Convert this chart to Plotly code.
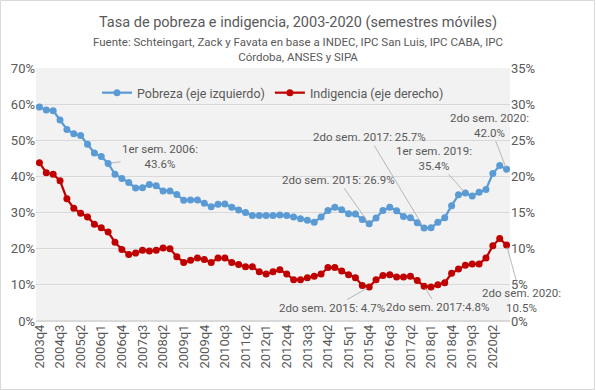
import plotly.graph_objects as go

# Categories: rolling semesters labelled by quarter, 2003q4 .. 2020q4
quarters = [f"{y}q{q}" for y in range(2003, 2021) for q in range(1, 5)][3:]
tick_labels = quarters[::3]

pobreza = [59.2, 58.4, 58.2, 55.6, 53.0, 51.8, 51.3, 48.9, 46.5, 45.5,
           43.6, 40.6, 39.4, 38.3, 36.8, 36.9, 37.8, 37.4, 36.0, 36.0,
           35.0, 33.4, 33.5, 33.5, 32.6, 31.6, 32.3, 32.4, 31.5, 30.7,
           30.0, 29.2, 29.2, 29.2, 29.2, 29.3, 29.2, 28.8, 28.3, 27.9,
           27.3, 28.8, 30.6, 31.5, 30.8, 29.7, 29.6, 28.1, 26.9, 28.5,
           30.6, 31.5, 30.5, 28.9, 28.6, 27.2, 25.7, 25.8, 27.3, 28.6,
           31.9, 34.9, 35.4, 34.6, 35.6, 36.4, 40.8, 43.0, 42.0]

indigencia = [21.9, 20.5, 20.3, 19.4, 16.9, 15.6, 14.9, 14.4, 13.4, 12.9,
              12.3, 10.9, 9.9, 9.2, 9.4, 9.8, 9.7, 9.8, 10.1, 10.0,
              8.9, 8.1, 8.4, 8.7, 8.5, 8.1, 8.7, 8.7, 8.1, 7.8,
              7.5, 7.5, 6.8, 6.5, 6.8, 7.1, 6.5, 5.7, 5.7, 6.0,
              6.2, 6.5, 7.4, 7.4, 6.9, 6.4, 6.0, 4.9, 4.7, 5.7,
              6.3, 6.4, 6.1, 6.1, 6.2, 5.6, 4.8, 4.7, 5.0, 5.3,
              6.6, 7.2, 7.7, 7.9, 7.9, 8.7, 10.4, 11.4, 10.5]

# Data labels: (category, text, dx, dy)
pob_labels = [
    ("2006q2", "1er sem. 2006:<br>43.6%", 52, -7),
    ("2015q4", "2do sem. 2015: 26.9%", -31, -44),
    ("2017q4", "2do sem. 2017: 25.7%", -55, -91),
    ("2019q2", "1er sem. 2019:<br>35.4%", -31, -35),
    ("2020q4", "2do sem. 2020:<br>42.0%", -17, -44),
]
ind_labels = [
    ("2015q4", "2do sem. 2015: 4.7%", -37, 21),
    ("2017q4", "2do sem. 2017:4.8%", 13, 21),
    ("2020q4", "2do sem. 2020:<br>10.5%", 15, 55),
]

FONT = "Roboto"
GRAY = "#595959"

fig = go.Figure()
fig.add_trace(go.Scatter(
    x=quarters, y=pobreza, name="Pobreza (eje izquierdo)",
    mode="lines+markers", line=dict(color="#5B9BD5", width=2.25),
    marker=dict(size=7, color="#5B9BD5"), yaxis="y"))
fig.add_trace(go.Scatter(
    x=quarters, y=indigencia, name="Indigencia (eje derecho)",
    mode="lines+markers", line=dict(color="#C00000", width=2.25),
    marker=dict(size=7, color="#C00000"), yaxis="y2"))

annotations = []
for cat, txt, dx, dy in pob_labels:
    val = pobreza[quarters.index(cat)]
    annotations.append(dict(x=cat, y=val, xref="x", yref="y", text=txt,
                            ax=dx, ay=dy, showarrow=True, arrowhead=0,
                            arrowwidth=0.8, arrowcolor="#A6A6A6", standoff=2,
                            font=dict(family=FONT, size=11.5, color=GRAY)))
for cat, txt, dx, dy in ind_labels:
    val = indigencia[quarters.index(cat)]
    annotations.append(dict(x=cat, y=val, xref="x", yref="y2", text=txt,
                            ax=dx, ay=dy, showarrow=True, arrowhead=0,
                            arrowwidth=0.8, arrowcolor="#A6A6A6", standoff=2,
                            font=dict(family=FONT, size=11.5, color=GRAY)))

# Title and subtitle
annotations.append(dict(xref="paper", yref="paper", x=0.5527, y=1.1818,
                        text="Tasa de pobreza e indigencia, 2003-2020 (semestres móviles)",
                        showarrow=False, xanchor="center", yanchor="middle",
                        font=dict(family=FONT, size=14.5, color=GRAY)))
annotations.append(dict(xref="paper", yref="paper", x=0.5527, y=1.073,
                        text="Fuente: Schteingart, Zack y Favata en base a INDEC, IPC San Luis, IPC CABA, IPC<br>Córdoba, ANSES y SIPA",
                        showarrow=False, xanchor="center", yanchor="middle",
                        font=dict(family=FONT, size=11.5, color=GRAY)))

fig.update_layout(
    width=596, height=390,
    margin=dict(l=36, r=86, t=68, b=69),
    paper_bgcolor="white", plot_bgcolor="#F2F2F2",
    font=dict(family=FONT, color=GRAY, size=13),
    showlegend=True,
    legend=dict(orientation="h", x=0.5, xanchor="center", y=0.901, yanchor="middle",
                bgcolor="rgba(0,0,0,0)", font=dict(size=12.5, color=GRAY),
                itemwidth=30, traceorder="normal"),
    xaxis=dict(type="category", range=[-0.5, len(quarters) - 0.5],
               tickmode="array", tickvals=tick_labels, ticktext=tick_labels,
               tickangle=-90, showgrid=False, showline=False, ticks="",
               tickfont=dict(size=13, color=GRAY)),
    yaxis=dict(range=[0, 70], dtick=10, ticksuffix="%", gridcolor="#D9D9D9",
               gridwidth=1, zeroline=True, zerolinecolor="#D9D9D9", showline=False,
               tickfont=dict(size=13, color=GRAY)),
    yaxis2=dict(range=[0, 35], dtick=5, ticksuffix="%", overlaying="y", side="right",
                showgrid=False, zeroline=False, showline=False,
                tickfont=dict(size=13, color=GRAY)),
    annotations=annotations,
    shapes=[dict(type="rect", xref="paper", yref="paper",
                 x0=-0.0749, x1=1.1783, y0=-0.2708, y1=1.2668,
                 line=dict(color="#D9D9D9", width=1), fillcolor="rgba(0,0,0,0)",
                 layer="below")],
)

fig.write_html("out.html", config={"displayModeBar": False},
               post_script="document.body.style.margin='0';")
